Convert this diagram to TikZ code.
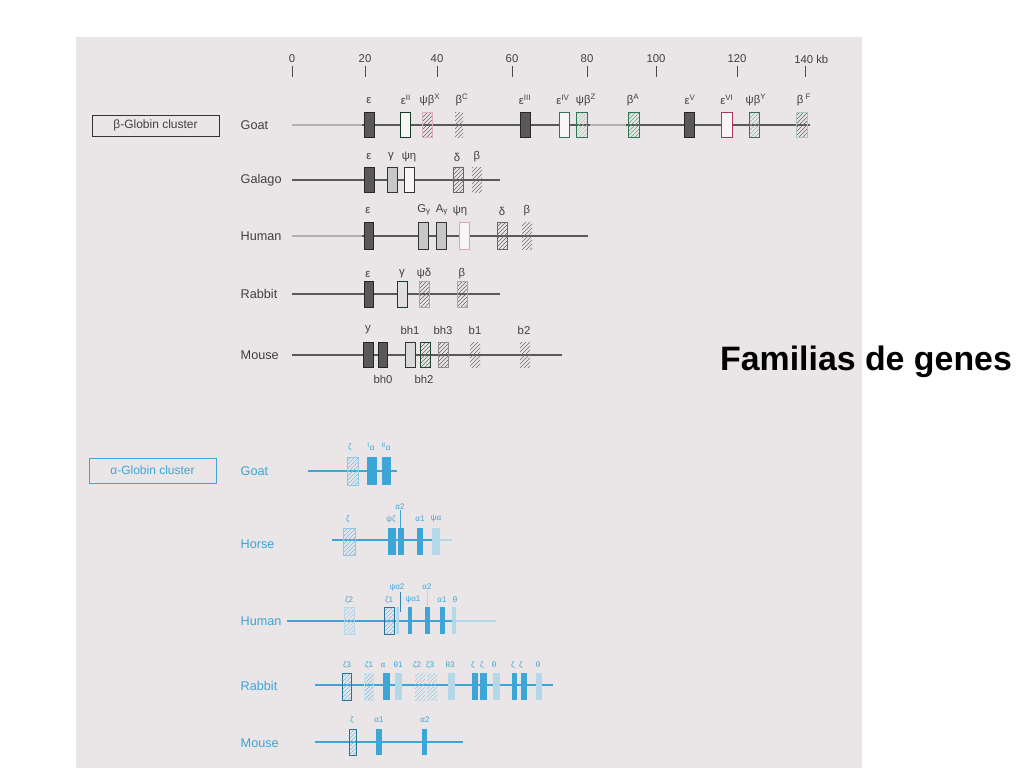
\documentclass[tikz,border=0pt]{standalone}
\usepackage{fontspec}
\setmainfont{Liberation Sans}
\usetikzlibrary{patterns}

\definecolor{paper}{RGB}{234,229,231}
\definecolor{ablue}{RGB}{62,165,215}
\definecolor{alight}{RGB}{178,216,234}
\definecolor{bgreen}{RGB}{45,120,80}
\definecolor{bred}{RGB}{175,55,90}

\begin{document}
\begin{tikzpicture}[x=0.75pt,y=-0.75pt,
  bline/.style={draw=black!65,line width=1pt},
  aline/.style={draw=ablue,line width=1pt},
  dark/.style={draw=black!85,fill=black!65,line width=0.6pt},
  light/.style={draw=black!80,fill=black!22,line width=0.6pt},
  open/.style={draw=black!80,fill=paper!40!white,line width=0.6pt},
  hatch/.style={draw=black!60,pattern=north east lines,pattern color=black!60,line width=0.6pt},
  pseudo/.style={draw=none,pattern=north east lines,pattern color=black!55},
  afill/.style={draw=none,fill=ablue},
  alite/.style={draw=none,fill=alight},
  ahatch/.style={draw=ablue!60,pattern=north east lines,pattern color=ablue!70,line width=0.5pt},
  apseudo/.style={draw=none,pattern=north east lines,pattern color=ablue!55},
  row/.style={font=\fontsize{9.5}{11}\selectfont,text=black!75,anchor=west},
  arow/.style={font=\fontsize{9.5}{11}\selectfont,text=ablue,anchor=west},
  glab/.style={font=\fontsize{8.5}{10}\selectfont,text=black!75,inner sep=0pt},
  alab/.style={font=\fontsize{6}{7}\selectfont,text=ablue,inner sep=0pt},
  scalelab/.style={font=\fontsize{8.5}{10}\selectfont,text=black!75,inner sep=0pt}]

\useasboundingbox (0,0) rectangle (1024,768);
\fill[white] (0,0) rectangle (1024,768);
\fill[paper] (76,37) rectangle (862,768);

% kb scale
\draw[black!70] (292,66) -- (292,77); \node[scalelab] (kb0) at (292,59) {0};
\draw[black!70] (365,66) -- (365,77); \node[scalelab] (kb20) at (365,59) {20};
\draw[black!70] (437,66) -- (437,77); \node[scalelab] (kb40) at (437,59) {40};
\draw[black!70] (512,66) -- (512,77); \node[scalelab] (kb60) at (512,59) {60};
\draw[black!70] (587,66) -- (587,77); \node[scalelab] (kb80) at (587,59) {80};
\draw[black!70] (656,66) -- (656,77); \node[scalelab] (kb100) at (656,59) {100};
\draw[black!70] (737,66) -- (737,77); \node[scalelab] (kb120) at (737,59) {120};
\draw[black!70] (805,66) -- (805,77); \node[scalelab,anchor=west] (kb140) at (794,59) {140 kb};

% beta label
\draw[black!80] (92,115) rectangle (219,136);
\node[font=\fontsize{9}{11}\selectfont,text=black!75] (bclust) at (155.5,125.5) {β-Globin cluster};

\begin{scope}[shift={(0,125)}] %beta goat
\node[row] (bgoat) at (236,0) {Goat};
\draw[bline] (292,0) -- (810,0);
\draw[bline,black!30] (292,0) -- (362,0);
\draw[bline,black!30] (590,0) -- (626,0);
\draw[dark] (364,-12.5) rectangle (374,12.5); \node[glab] (gE) at (369,-24) {ε};
\draw[open,draw=bgreen!50!black] (400,-12.5) rectangle (410,12.5); \node[glab] (gE2) at (406,-25) {ε\textsuperscript{II}};
\draw[hatch,draw=bred!40] (422,-12.5) rectangle (432,12.5); \node[glab] (gPX) at (430,-25) {ψβ\textsuperscript{X}};
\draw[pseudo] (455,-12.5) rectangle (463,12.5); \node[glab] (gBC) at (462,-25) {β\textsuperscript{C}};
\draw[dark] (520,-12.5) rectangle (530,12.5); \node[glab] (gE3) at (525,-25) {ε\textsuperscript{III}};
\draw[open,draw=bgreen] (559,-12.5) rectangle (569,12.5); \node[glab] (gE4) at (563,-25) {ε\textsuperscript{IV}};
\draw[hatch,draw=bgreen,pattern color=bgreen!40] (576,-12.5) rectangle (587,12.5); \node[glab] (gPZ) at (586,-25) {ψβ\textsuperscript{Z}};
\draw[hatch,draw=bgreen,pattern color=bgreen!70] (628,-12.5) rectangle (639,12.5); \node[glab] (gBA) at (633,-25) {β\textsuperscript{A}};
\draw[dark] (684,-12.5) rectangle (694,12.5); \node[glab] (gE5) at (690,-25) {ε\textsuperscript{V}};
\draw[open,draw=bred] (721,-12.5) rectangle (732,12.5); \node[glab] (gE6) at (727,-25) {ε\textsuperscript{VI}};
\draw[hatch,draw=bgreen,pattern color=bgreen!50] (749,-12.5) rectangle (759,12.5); \node[glab] (gPY) at (756,-25) {ψβ\textsuperscript{Y}};
\draw[hatch,draw=bgreen!40] (796,-12.5) rectangle (807,12.5); \node[glab] (gBF) at (804,-25) {β\textsuperscript{ F}};
\end{scope}

\begin{scope}[shift={(0,180)}] %beta galago
\node[row] (bgalago) at (236,0) {Galago};
\draw[bline] (292,0) -- (500,0);
\draw[dark] (364,-13) rectangle (374,12); \node[glab] (lE) at (369,-23) {ε};
\draw[light] (387,-13) rectangle (397,12); \node[glab] (lG) at (391,-23) {γ};
\draw[open] (404,-13) rectangle (414,12); \node[glab] (lPH) at (409,-23) {ψη};
\draw[hatch] (453,-13) rectangle (463,12); \node[glab] (lD) at (457,-23) {δ};
\draw[pseudo] (472,-13) rectangle (482,12); \node[glab] (lB) at (477,-23) {β};
\end{scope}

\begin{scope}[shift={(0,236)}] %beta human
\node[row] (bhuman) at (236,0) {Human};
\draw[bline] (292,0) -- (588,0);
\draw[bline,black!30] (292,0) -- (362,0);
\draw[dark] (364,-13.5) rectangle (373,13); \node[glab] (hE) at (368,-25) {ε};
\draw[light] (418,-13.5) rectangle (428,13); \node[glab] (hGG) at (424,-26) {G\textsubscript{γ}};
\draw[light] (436,-13.5) rectangle (446,13); \node[glab] (hAG) at (442,-26) {A\textsubscript{γ}};
\draw[open,draw=bred!45] (459,-13.5) rectangle (469,13); \node[glab] (hPH) at (460,-25) {ψη};
\draw[hatch] (497,-13.5) rectangle (507,13); \node[glab] (hD) at (502,-25) {δ};
\draw[pseudo] (522,-13.5) rectangle (532,13); \node[glab] (hB) at (527,-25) {β};
\end{scope}

\begin{scope}[shift={(0,294)}] %beta rabbit
\node[row] (brabbit) at (236,0) {Rabbit};
\draw[bline] (292,0) -- (500,0);
\draw[dark] (364,-13) rectangle (373,13); \node[glab] (rE) at (368,-20) {ε};
\draw[light,draw=bgreen!50!black,fill=black!12] (397,-13) rectangle (407,13); \node[glab] (rG) at (402,-20) {γ};
\draw[hatch,draw=black!35] (419,-13) rectangle (429,13); \node[glab] (rPD) at (424,-20) {ψδ};
\draw[hatch,draw=black!35] (457,-13) rectangle (467,13); \node[glab] (rB) at (462,-20) {β};
\end{scope}

\begin{scope}[shift={(0,355)}] %beta mouse
\node[row] (bmouse) at (236,0) {Mouse};
\draw[bline] (292,0) -- (562,0);
\draw[dark] (363,-13) rectangle (373,12); \node[glab] (mY) at (368,-25) {y};
\draw[dark] (378,-13) rectangle (387,12); \node[glab] (mBH0) at (383,24) {bh0};
\draw[light,fill=black!15] (405,-13) rectangle (415,12); \node[glab] (mBH1) at (410,-25) {bh1};
\draw[hatch,draw=bgreen!60!black] (420,-13) rectangle (430,12); \node[glab] (mBH2) at (424,24) {bh2};
\draw[hatch,draw=black!45] (438,-13) rectangle (448,12); \node[glab] (mBH3) at (443,-25) {bh3};
\draw[pseudo] (470,-13) rectangle (480,12); \node[glab] (mB1) at (475,-25) {b1};
\draw[pseudo] (520,-13) rectangle (530,12); \node[glab] (mB2) at (524,-25) {b2};
\end{scope}

% alpha label
\draw[ablue] (89,458) rectangle (216,483);
\node[font=\fontsize{9}{11}\selectfont,text=ablue] (aclust) at (152.5,470.5) {α-Globin cluster};

\begin{scope}[shift={(0,471)}] %alpha goat
\node[arow] (agoat) at (236,0) {Goat};
\draw[aline] (308,0) -- (397,0);
\draw[ahatch] (347,-14) rectangle (358,14); \node[alab] (gZ) at (350,-24) {ζ};
\draw[afill] (367,-14) rectangle (377,14); \node[alab] (gA1) at (371,-24) {\textsuperscript{I}α};
\draw[afill] (382,-14) rectangle (391,14); \node[alab] (gA2) at (386,-24) {\textsuperscript{II}α};
\end{scope}

\begin{scope}[shift={(0,540)}] %alpha horse
\node[arow] (ahorse) at (236,4) {Horse};
\draw[aline] (332,0) -- (440,0);
\draw[aline,alight] (440,0) -- (452,0);
\draw[ahatch] (343,-12) rectangle (355,15); \node[alab] (oZ) at (348,-21) {ζ};
\draw[afill] (388,-12) rectangle (396,15); \node[alab] (oPZ) at (391,-21) {ψζ};
\draw[afill] (398,-12) rectangle (404,15); \node[alab] (oA2) at (400,-33) {α2};
\draw[ablue] (400,-12) -- (oA2.south);
\draw[afill] (417,-12) rectangle (423,15); \node[alab] (oA1) at (420,-21) {α1};
\draw[alite] (432,-12) rectangle (440,15); \node[alab] (oPA) at (436,-21) {ψα};
\end{scope}

\begin{scope}[shift={(0,621)}] %alpha human
\node[arow] (ahuman) at (236,0) {Human};
\draw[aline] (287,0) -- (452,0);
\draw[aline,alight] (452,0) -- (496,0);
\draw[ahatch,draw=alight,pattern color=ablue!50] (344,-14) rectangle (354,13); \node[alab] (uZ2) at (349,-21) {ζ2};
\draw[ahatch,draw=ablue!70!black] (384,-14) rectangle (394,13); \node[alab] (uZ1) at (389,-21) {ζ1};
\draw[alite] (396,-14) rectangle (399,13); \node[alab] (uPA2) at (397,-33) {ψα2};
\draw[ablue!80!black] (400,-9) -- (400,-29);
\draw[afill] (408,-14) rectangle (412,13); \node[alab] (uPA1) at (413,-21) {ψα1};
\draw[afill] (425,-14) rectangle (430,13); \node[alab] (uA2) at (427,-34) {α2};
\draw[alight] (427,-14) -- (uA2.south);
\draw[afill] (440,-14) rectangle (445,13); \node[alab] (uA1) at (442,-21) {α1};
\draw[alite] (452,-14) rectangle (456,13); \node[alab] (uT) at (455,-21) {θ};
\end{scope}

\begin{scope}[shift={(0,685)}] %alpha rabbit
\node[arow] (arabbit) at (236,1) {Rabbit};
\draw[aline] (315,0) -- (553,0);
\draw[ahatch,draw=ablue!70!black] (342,-12) rectangle (351,15); \node[alab] (rZ3) at (347,-20) {ζ3};
\draw[ahatch,draw=ablue!30] (364,-12) rectangle (373,15); \node[alab] (rZ1) at (369,-20) {ζ1};
\draw[afill] (383,-12) rectangle (390,15); \node[alab] (rA) at (383,-20) {α};
\draw[alite] (395,-12) rectangle (402,15); \node[alab] (rT1) at (398,-20) {θ1};
\draw[apseudo] (415,-12) rectangle (425,15); \node[alab] (rZ2) at (417,-20) {ζ2};
\draw[apseudo] (427,-12) rectangle (437,15); \node[alab] (rZ3b) at (430,-20) {ζ3};
\draw[alite] (448,-12) rectangle (455,15); \node[alab] (rT3) at (450,-20) {θ3};
\draw[afill] (472,-12) rectangle (478,15); \node[alab] (rZa) at (473,-20) {ζ};
\draw[afill] (480,-12) rectangle (487,15); \node[alab] (rZb) at (482,-20) {ζ};
\draw[alite] (493,-12) rectangle (500,15); \node[alab] (rTa) at (494,-20) {θ};
\draw[afill] (512,-12) rectangle (517,15); \node[alab] (rZc) at (513,-20) {ζ};
\draw[afill] (521,-12) rectangle (527,15); \node[alab] (rZd) at (521,-20) {ζ};
\draw[alite] (536,-12) rectangle (542,15); \node[alab] (rTb) at (538,-20) {θ};
\end{scope}

\begin{scope}[shift={(0,742)}] %alpha mouse
\node[arow] (amouse) at (236,1) {Mouse};
\draw[aline] (315,0) -- (463,0);
\draw[ahatch,draw=ablue!70!black] (349,-13) rectangle (356,13); \node[alab] (sZ) at (352,-22) {ζ};
\draw[afill] (376,-13) rectangle (382,13); \node[alab] (sA1) at (379,-22) {α1};
\draw[afill] (422,-13) rectangle (427,13); \node[alab] (sA2) at (425,-22) {α2};
\end{scope}

\node[font=\bfseries\fontsize{25.4}{30}\selectfont] (title) at (866,362) {Familias de genes};

\end{tikzpicture}
\end{document}
